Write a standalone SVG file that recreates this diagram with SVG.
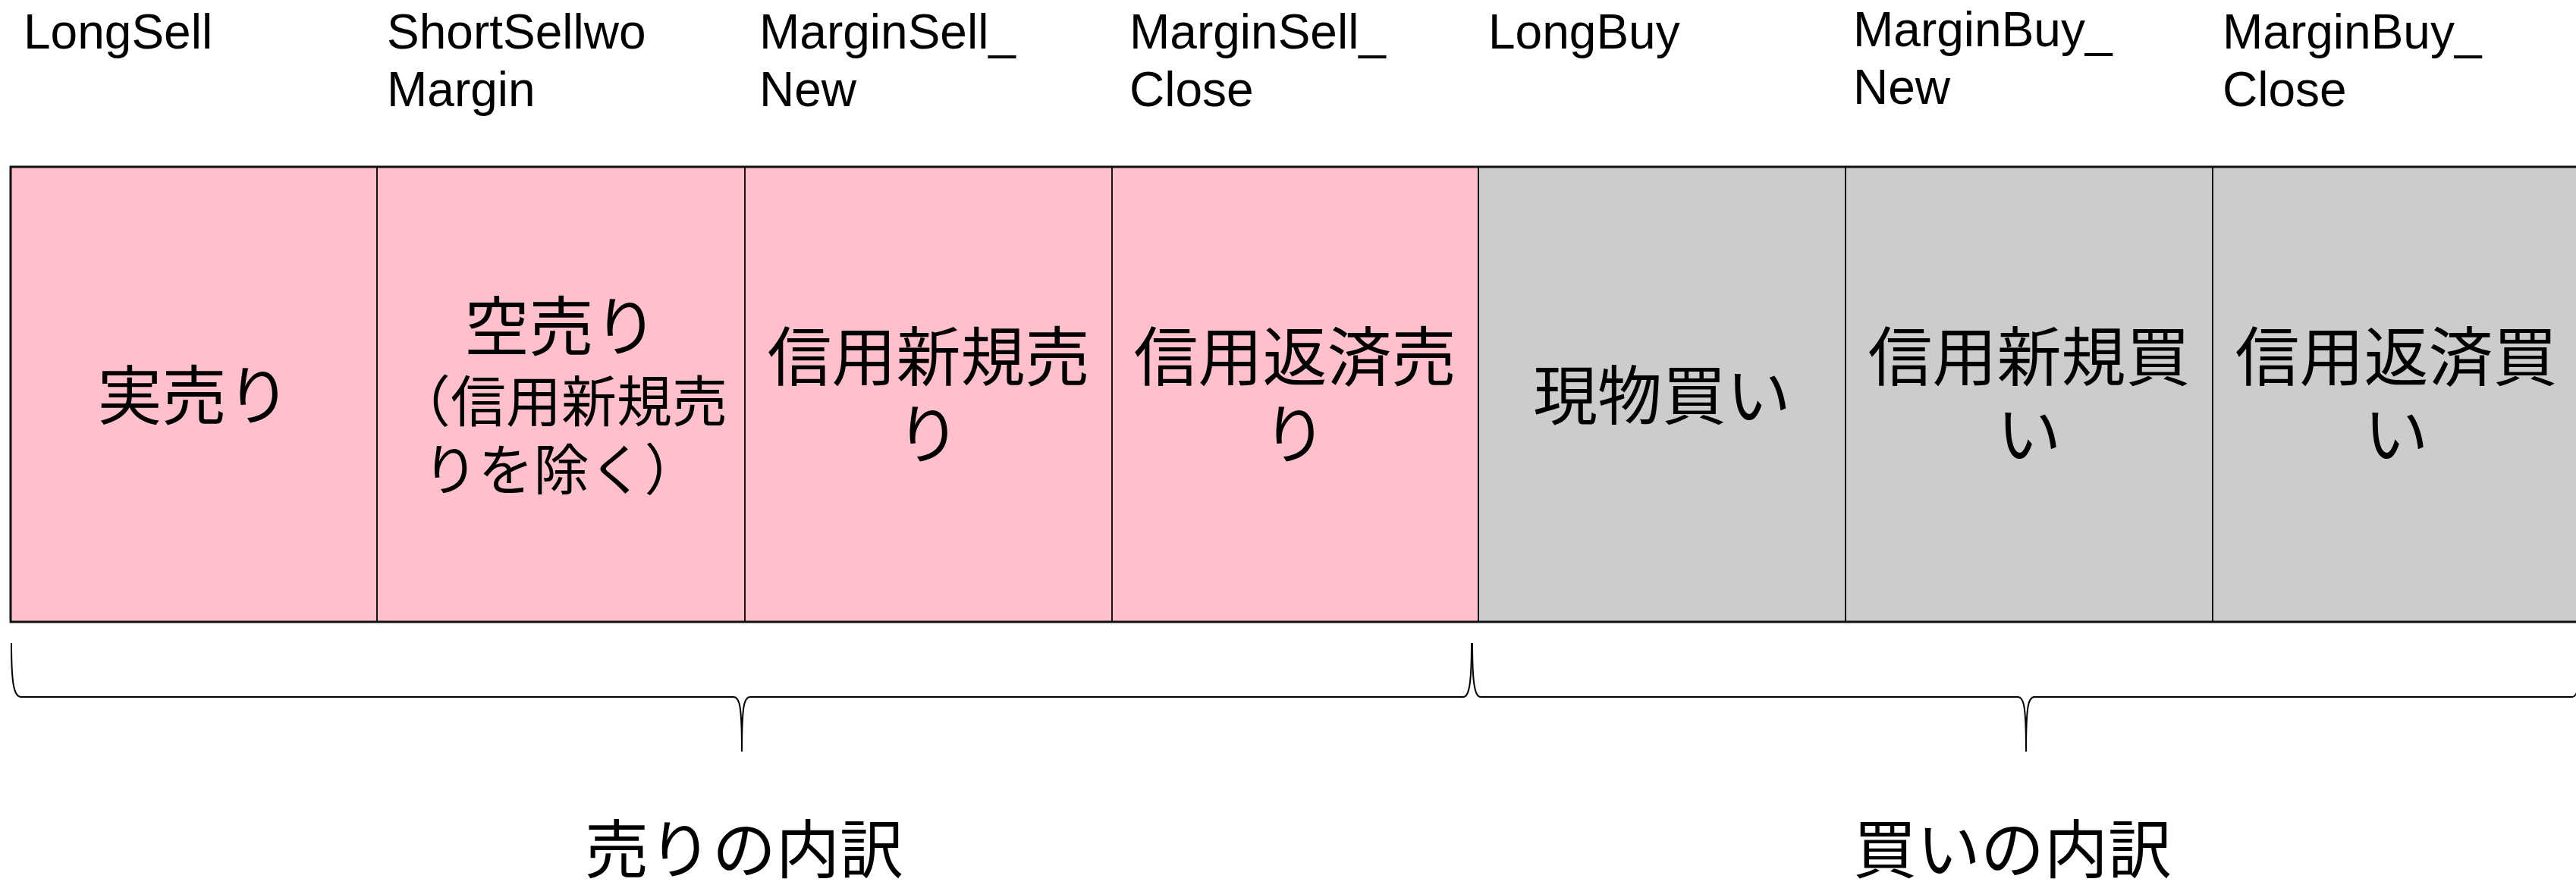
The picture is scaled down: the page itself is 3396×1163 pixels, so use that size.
<svg xmlns="http://www.w3.org/2000/svg" width="3396" height="1163" viewBox="0 0 3396 1163">
<style>
  .sell { fill: #FFC0CB; stroke: #111; stroke-width: 2; }
  .buy { fill: #CCCCCC; stroke: #111; stroke-width: 2; }
  .hdr { font-family: "Liberation Sans", Arial, sans-serif; font-size: 64px; fill: #000; }
  .cell { font-family: "Noto Sans CJK JP", "Noto Sans CJK SC", sans-serif; font-size: 85px; fill: #000; text-anchor: middle; }
  .small { font-size: 73px; }
  .sum { font-family: "Noto Sans CJK JP", "Noto Sans CJK SC", sans-serif; font-size: 84px; fill: #000; text-anchor: middle; }
  .brace { fill: none; stroke: #000; stroke-width: 2; }
</style>
<rect x="0" y="0" width="3396" height="1163" fill="#FFFFFF"/>

<g id="LongSell">
  <rect class="sell" x="14" y="220" width="483" height="600"/>
  <text class="hdr" x="31" y="64">LongSell</text>
  <text class="cell" x="256" y="553">実売り</text>
</g>

<g id="ShortSellwoMargin">
  <rect class="sell" x="497" y="220" width="485" height="600"/>
  <text class="hdr" x="510" y="64">ShortSellwo</text>
  <text class="hdr" x="510" y="140">Margin</text>
  <text class="cell" x="740" y="462">空売り</text>
  <text class="cell small" x="740" y="556">（信用新規売</text>
  <text class="cell small" x="740" y="646">りを除く）</text>
</g>

<g id="MarginSell_New">
  <rect class="sell" x="982" y="220" width="484" height="600"/>
  <text class="hdr" x="1001" y="64">MarginSell_</text>
  <text class="hdr" x="1001" y="140">New</text>
  <text class="cell" x="1224" y="502">信用新規売</text>
  <text class="cell" x="1224" y="604">り</text>
</g>

<g id="MarginSell_Close">
  <rect class="sell" x="1466" y="220" width="483" height="600"/>
  <text class="hdr" x="1489" y="64">MarginSell_</text>
  <text class="hdr" x="1489" y="140">Close</text>
  <text class="cell" x="1707" y="502">信用返済売</text>
  <text class="cell" x="1707" y="604">り</text>
</g>

<g id="LongBuy">
  <rect class="buy" x="1949" y="220" width="484" height="600"/>
  <text class="hdr" x="1962" y="64">LongBuy</text>
  <text class="cell" x="2191" y="553">現物買い</text>
</g>

<g id="MarginBuy_New">
  <rect class="buy" x="2433" y="220" width="484" height="600"/>
  <text class="hdr" x="2443" y="61">MarginBuy_</text>
  <text class="hdr" x="2443" y="137">New</text>
  <text class="cell" x="2675" y="502">信用新規買</text>
  <text class="cell" x="2675" y="604">い</text>
</g>

<g id="MarginBuy_Close">
  <rect class="buy" x="2917" y="220" width="484" height="600"/>
  <text class="hdr" x="2930" y="64">MarginBuy_</text>
  <text class="hdr" x="2930" y="140">Close</text>
  <text class="cell" x="3159" y="502">信用返済買</text>
  <text class="cell" x="3159" y="604">い</text>
</g>

<rect x="14" y="220" width="3400" height="600" fill="none" stroke="#111" stroke-width="3"/>

<g id="connectors">
  <path class="brace" d="M15,848 C15,900 18,919 28,919 L967,919 C975,919 978,930 978,991 C978,930 981,919 989,919 L1929,919 C1937,919 1940,900 1940,848"/>
  <path class="brace" d="M1941,848 C1941,900 1944,919 1952,919 L2660,919 C2668,919 2671,930 2671,991 C2671,930 2674,919 2682,919 L3391,919 C3399,919 3402,900 3402,848"/>
</g>

<g id="SellBreakdown">
  <text class="sum" x="981" y="1151">売りの内訳</text>
</g>
<g id="BuyBreakdown">
  <text class="sum" x="2653" y="1151">買いの内訳</text>
</g>
</svg>
